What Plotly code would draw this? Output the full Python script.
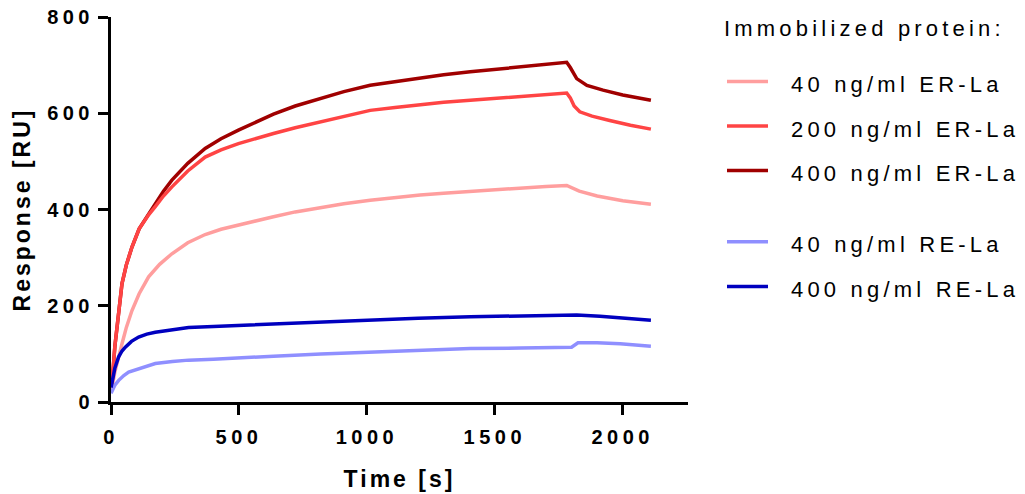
import plotly.graph_objects as go

# ---- data ----
t_er40 = [0, 5, 15, 30, 43, 60, 82, 110, 147, 190, 238, 300, 368, 430, 498, 565, 635, 720, 817, 910, 1013, 1110,
          1208, 1300, 1404, 1500, 1599, 1700, 1781, 1800, 1830, 1900, 2000, 2110]
v_er40 = [25, 33, 62, 98, 121, 155, 190, 225, 260, 286, 308, 331, 348, 359, 368, 377, 385, 395, 404, 412, 419, 425,
          430, 434, 438, 442, 445, 448, 450, 446, 438, 428, 418, 411]

t_er200 = [0, 5, 15, 30, 43, 60, 82, 110, 147, 173, 205, 238, 300, 368, 430, 498, 565, 635, 720, 817, 910, 1013,
           1110, 1208, 1300, 1404, 1500, 1599, 1700, 1781, 1795, 1810, 1832, 1880, 1949, 2030, 2110]
v_er200 = [33, 45, 115, 190, 246, 285, 322, 360, 389, 406, 428, 447, 480, 509, 524, 537, 548, 558, 570, 582, 594, 606,
           612, 618, 623, 627, 631, 635, 639, 642, 632, 615, 603, 594, 585, 575, 567]

t_er400 = [0, 5, 15, 30, 43, 60, 82, 110, 147, 173, 205, 238, 300, 368, 430, 498, 565, 635, 720, 817, 910, 1013,
           1110, 1208, 1300, 1404, 1500, 1599, 1700, 1781, 1795, 1820, 1860, 1923, 2000, 2110]
v_er400 = [33, 45, 115, 190, 246, 285, 322, 360, 391, 412, 438, 461, 496, 527, 547, 565, 582, 598, 615, 630, 645, 658,
           666, 674, 680, 686, 691, 696, 701, 706, 695, 672, 658, 648, 638, 627]

t_re40 = [0, 5, 15, 30, 50, 69, 90, 108, 140, 173, 240, 303, 400, 498, 635, 820, 1013, 1200, 1404, 1600, 1781,
          1800, 1825, 1900, 1990, 2110]
v_re40 = [18, 25, 35, 45, 55, 62, 66, 69, 75, 80, 84, 87, 89, 91, 95, 100, 104, 108, 111, 112, 113,
          114, 123, 123, 121, 116]

t_re400 = [0, 5, 15, 30, 43, 56, 80, 108, 140, 173, 240, 303, 400, 498, 635, 820, 1013, 1200, 1404, 1600, 1781,
           1820, 1911, 1990, 2110]
v_re400 = [30, 42, 70, 94, 106, 114, 126, 135, 141, 145, 151, 155, 157, 159, 163, 167, 171, 174, 177, 179, 180,
           181, 178, 175, 170]

names = ["40 ng/ml ER-La", "200 ng/ml ER-La", "400 ng/ml ER-La", "40 ng/ml RE-La", "400 ng/ml RE-La"]
colors = ["#FF9E9E", "#FF4444", "#A00000", "#8F8FFF", "#0000BF"]
x_ticks = [0, 500, 1000, 1500, 2000]
y_ticks = [0, 200, 400, 600, 800]

FONT = "Arial, 'Liberation Sans', sans-serif"

series = [
    (t_er40, v_er40, 0, "legend", 1),
    (t_er400, v_er400, 2, "legend", 3),
    (t_er200, v_er200, 1, "legend", 2),
    (t_re40, v_re40, 3, "legend2", 4),
    (t_re400, v_re400, 4, "legend2", 5),
]

fig = go.Figure()
for t, v, i, lg, rank in series:
    fig.add_trace(go.Scatter(
        x=t, y=v, mode="lines", name=names[i],
        line=dict(color=colors[i], width=3.5),
        legend=lg, legendgroup="g%d" % i, legendrank=rank,
    ))

leg_common = dict(
    xref="container", yref="container", xanchor="left", yanchor="top",
    bgcolor="rgba(0,0,0,0)", borderwidth=0, itemwidth=41,
    traceorder="grouped", tracegroupgap=13,
    font=dict(family=FONT, size=22, color="#000"),
)

fig.update_layout(
    width=1025, height=494,
    margin=dict(l=111, r=337, t=17, b=92, autoexpand=False),
    paper_bgcolor="white", plot_bgcolor="white",
    showlegend=True,
    legend=dict(x=722 / 1025, y=1 - 32 / 494,
                title=dict(text="Immobilized protein:", font=dict(family=FONT, size=22, color="#000")),
                **leg_common),
    legend2=dict(x=722 / 1025, y=1 - 221 / 494, **leg_common),
    xaxis=dict(
        range=[0, 2255], tickvals=x_ticks, ticktext=[str(v) for v in x_ticks],
        showline=True, linecolor="black", linewidth=3,
        ticks="outside", ticklen=10, tickwidth=3, tickcolor="black",
        showgrid=False, zeroline=False, ticklabelstandoff=5, automargin=False,
        tickfont=dict(family=FONT, size=20, color="black", weight="bold"),
        title=dict(text="Time [s]", standoff=24,
                   font=dict(family=FONT, size=23, color="black", weight="bold")),
    ),
    yaxis=dict(
        range=[0, 800], tickvals=y_ticks, ticktext=[str(v) for v in y_ticks],
        showline=True, linecolor="black", linewidth=3,
        ticks="outside", ticklen=10, tickwidth=3, tickcolor="black",
        showgrid=False, zeroline=False, automargin=False,
        tickfont=dict(family=FONT, size=20, color="black", weight="bold"),
        title=dict(text="Response [RU]", standoff=24,
                   font=dict(family=FONT, size=23, color="black", weight="bold")),
    ),
)

css = (
    ".xtick text, .ytick text {letter-spacing: 4.5px;}"
    " .xtitle, .ytitle {letter-spacing: 3px;}"
    " .legend text, .legend2 text {letter-spacing: 4.2px;}"
    " .legend .legendtext, .legend2 .legendtext, .legend2 .legend2text {transform: translate(18px, 2px);}"
    " .legend .legendtitletext {transform: translateY(-25px);}"
    " .legend .scrollbox, .legend2 .scrollbox {clip-path: none !important;}"
)
post = "var s=document.createElement('style');s.textContent=" + repr(css) + ";document.head.appendChild(s);"

fig.write_html("out.html", post_script=post)
